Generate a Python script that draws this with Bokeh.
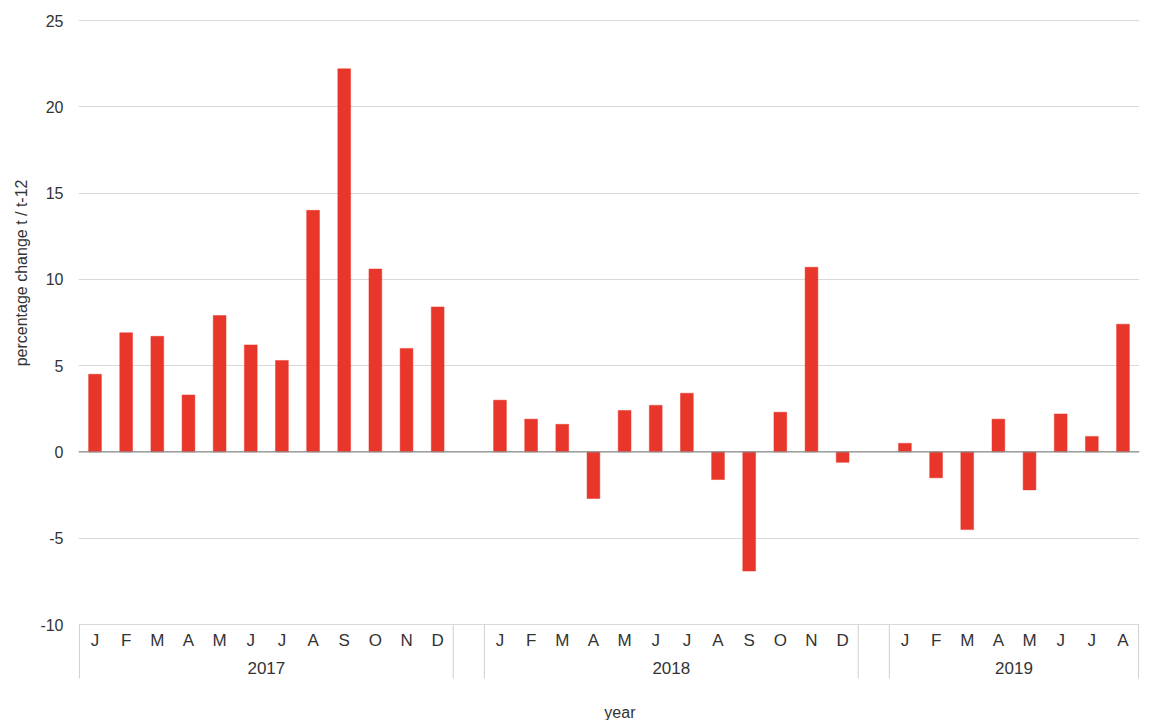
from bokeh.plotting import figure
from bokeh.models import FactorRange, Range1d, Span, ColumnDataSource, Title
from bokeh.embed import file_html
from bokeh.resources import INLINE
from bokeh.core.properties import value

# ---------------- data ----------------
years = ["2017", "2018", "2019"]
month_names = ["Jan", "Feb", "Mar", "Apr", "May", "Jun",
               "Jul", "Aug", "Sep", "Oct", "Nov", "Dec"]
month_letters = ["J", "F", "M", "A", "M", "J", "J", "A", "S", "O", "N", "D"]
values_2017 = [4.5, 6.9, 6.7, 3.3, 7.9, 6.2, 5.3, 14.0, 22.2, 10.6, 6.0, 8.4]
values_2018 = [3.0, 1.9, 1.6, -2.7, 2.4, 2.7, 3.4, -1.6, -6.9, 2.3, 10.7, -0.6]
values_2019 = [0.5, -1.5, -4.5, 1.9, -2.2, 2.2, 0.9, 7.4]
y_ticks = [-10, -5, 0, 5, 10, 15, 20, 25]
y_title = "percentage change t / t-12"
x_title = "year"

series = {"2017": values_2017, "2018": values_2018, "2019": values_2019}

factors, vals, letters = [], [], []
for yr in years:
    for i, v in enumerate(series[yr]):
        factors.append((yr, month_names[i]))
        vals.append(v)
        letters.append(month_letters[i])

# separators at each group's outer edges
sep_x = []
for yr in years:
    n = len(series[yr])
    sep_x.append([yr, month_names[0], -0.5])
    sep_x.append([yr, month_names[n - 1], 0.5])

# ---------------- styling constants ----------------
FONT = "Liberation Sans"
TEXT = "#333333"
BAR = "#e8362a"
GRID = "#d9d9d9"

W, H = 1141, 720
TOP = 19
px_per_unit = 604 / 35.0
y_top = max(y_ticks) + 1.0 / px_per_unit
frame_h = H - TOP
y_bottom = y_top - frame_h / px_per_unit
box_top = min(y_ticks)
box_bottom = box_top - 54 / px_per_unit
month_y = box_top - 16 / px_per_unit
year_y = box_top - 43.5 / px_per_unit
title_y = box_top - 88 / px_per_unit

x_range = FactorRange(*factors, group_padding=1.0, factor_padding=0.0,
                      range_padding=0.03, range_padding_units="absolute")

p = figure(width=W, height=H, x_range=x_range,
           y_range=Range1d(y_bottom, y_top),
           output_backend="svg", toolbar_location=None,
           min_border_left=78, min_border_right=2,
           min_border_top=TOP, min_border_bottom=0)

p.outline_line_color = None
p.background_fill_color = "white"
p.border_fill_color = "white"

p.xaxis.visible = False
p.xgrid.grid_line_color = None

p.yaxis.ticker = y_ticks
p.yaxis.major_label_overrides = {t: str(t) for t in y_ticks}
p.yaxis.axis_line_color = None
p.yaxis.major_tick_line_color = None
p.yaxis.minor_tick_line_color = None
p.yaxis.major_tick_out = 0
p.yaxis.major_label_standoff = 15
p.yaxis.major_label_text_font = FONT
p.yaxis.major_label_text_font_size = "16px"
p.yaxis.major_label_text_color = TEXT
p.ygrid.grid_line_color = GRID
p.ygrid.grid_line_width = 1

src = ColumnDataSource(dict(x=factors, top=vals, letter=letters))
p.vbar(x="x", top="top", bottom=0, width=0.41, source=src,
       fill_color=BAR, line_color=BAR, line_width=0.5)

zero = Span(location=0, dimension="width", line_color="#8c8c8c", line_width=1.2)
p.add_layout(zero)

# category box separators
p.segment(x0=sep_x, y0=box_top, x1=sep_x, y1=box_bottom,
          line_color="#cfcfcf", line_width=1)

# month labels
p.text(x="x", y=month_y, text="letter", source=src,
       text_font=value(FONT), text_font_size="17px", text_color=TEXT,
       text_align="center", text_baseline="middle")

# year labels
p.text(x=years, y=[year_y] * len(years), text=years,
       text_font=value(FONT), text_font_size="17px", text_color=TEXT,
       text_align="center", text_baseline="middle")

# x title ("year")
p.text(x=[["2018", "Apr", 0.85]], y=[title_y], text=[x_title],
       text_font=value(FONT), text_font_size="16px", text_color=TEXT,
       text_align="center", text_baseline="middle")

# y title
yt = Title(text=y_title, align="right", offset=160, standoff=16,
           text_font=FONT, text_font_size="16px", text_font_style="normal",
           text_color=TEXT)
p.add_layout(yt, "left")

open("out.html", "w").write(file_html(p, INLINE))
